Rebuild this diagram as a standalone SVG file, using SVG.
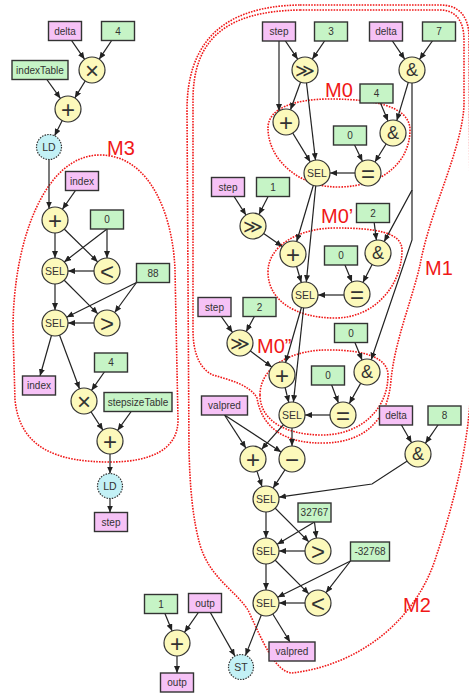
<svg xmlns="http://www.w3.org/2000/svg" width="469" height="694" viewBox="0 0 469 694">
<defs>
<style>
  .bg{fill:#ffffff}
  .region{fill:none;stroke:#f01818;stroke-width:1.6;stroke-dasharray:1.6 1.2}
  .rlbl{font-family:"Liberation Sans",Arial,sans-serif;font-size:20px;fill:#f01818}
  .edge line,.edge polyline{stroke:#222;stroke-width:1.2;fill:none;marker-end:url(#arr)}
  .var{fill:#f6c2f6;stroke:#333;stroke-width:1.4}
  .con{fill:#c6f4c6;stroke:#333;stroke-width:1.4}
  .op{fill:#fcf9bb;stroke:#333;stroke-width:1.2}
  .mem{fill:#c3f1f6;stroke:#333;stroke-width:1.2;stroke-dasharray:1.5 1.2}
  .bt{font-family:"Liberation Sans",Arial,sans-serif;font-size:10px;fill:#333;text-anchor:middle;dominant-baseline:central}
  .sym{font-family:"Liberation Sans","DejaVu Sans",sans-serif;font-size:24px;fill:#333;text-anchor:middle;dominant-baseline:central}
  .amp{font-family:"Liberation Sans","DejaVu Sans",sans-serif;font-size:18px;fill:#333;text-anchor:middle;dominant-baseline:central}
  .shr{font-family:"DejaVu Sans",sans-serif;font-size:19px;fill:#333;text-anchor:middle;dominant-baseline:central}
  .sel{font-family:"Liberation Sans",Arial,sans-serif;font-size:10.5px;fill:#333;text-anchor:middle;dominant-baseline:central}
</style>
<marker id="arr" markerUnits="userSpaceOnUse" markerWidth="7" markerHeight="6" refX="7" refY="3" orient="auto">
  <path d="M0,0 L7,3 L0,6 Z" fill="#222"/>
</marker>
</defs>
<rect class="bg" x="0" y="0" width="469" height="694"/>

<!-- dotted module outlines -->
<g id="regions">
  <path class="region" d="M 100,155 C 150,155 173,215 175,270 L 178,420 C 178,450 150,462 110,462 C 60,462 20,450 15,400 L 13,330 C 13,240 45,155 100,155 Z"/>
  <path class="region" d="M 300,5 L 440,5 C 458,5 468,15 469,35 L 471,380 C 470,440 455,500 435,560 C 415,620 360,665 292,673 C 275,672 262,640 248,610 C 235,590 210,578 200,545 C 193,520 190,490 189,450 L 187,110 C 187,45 220,6 300,5 Z"/>
  <path class="region" d="M 300,10 L 440,10 C 455,10 464,20 464,40 L 464,105 C 462,150 430,210 420,265 C 412,300 395,340 391,380 C 388,420 365,442 325,443 C 285,444 262,428 257,398 C 250,385 230,380 213,375 C 198,368 193,350 193,330 L 193,100 C 193,40 225,11 300,10 Z"/>
  <path class="region" d="M 268,128 C 268,108 295,99 330,99 C 370,99 410,105 410,130 C 410,160 385,186 340,187 C 300,188 268,160 268,128 Z"/>
  <path class="region" d="M 268,272 C 268,245 300,228 335,228 C 375,228 402,232 402,250 C 402,285 375,318 335,318 C 295,318 268,300 268,272 Z"/>
  <path class="region" d="M 260,395 C 260,365 295,349 330,350 C 365,350 388,358 388,375 C 388,410 360,435 322,435 C 285,435 260,420 260,395 Z"/>
  <text class="rlbl" x="107" y="155">M3</text>
  <text class="rlbl" x="325" y="97">M0</text>
  <text class="rlbl" x="321" y="223">M0’</text>
  <text class="rlbl" x="257" y="353">M0”</text>
  <text class="rlbl" x="425" y="275">M1</text>
  <text class="rlbl" x="403" y="612">M2</text>
</g>

<g id="connectors" class="edge">
  <!-- index update path -->
  <line x1="65" y1="31" x2="84.6" y2="59.3"/>
  <line x1="118" y1="31" x2="99.2" y2="59.2"/>
  <line x1="40" y1="70" x2="60.4" y2="98.4"/>
  <line x1="92" y1="70" x2="74.8" y2="97.9"/>
  <line x1="68" y1="109" x2="54.6" y2="135.8"/>
  <line x1="49" y1="159" x2="49" y2="208.5"/>
  <line x1="82" y1="181" x2="62.4" y2="209.3"/>
  <line x1="55" y1="233" x2="55" y2="258"/>
  <line x1="55" y1="220" x2="97.7" y2="261.9"/>
  <line x1="107" y1="229" x2="64.2" y2="261.9"/>
  <line x1="107" y1="229" x2="107" y2="258"/>
  <line x1="94" y1="271" x2="68" y2="271"/>
  <line x1="55" y1="284" x2="55" y2="310"/>
  <line x1="55" y1="271" x2="97.8" y2="313.8"/>
  <line x1="136.5" y1="282.5" x2="66.6" y2="317.2"/>
  <line x1="136.5" y1="282.5" x2="114.7" y2="312.5"/>
  <line x1="94" y1="323" x2="68" y2="323"/>
  <line x1="55" y1="323" x2="40" y2="376"/>
  <line x1="55" y1="323" x2="79.5" y2="388.8"/>
  <line x1="111" y1="362.5" x2="91.5" y2="390.4"/>
  <line x1="84" y1="401" x2="102.9" y2="430.1"/>
  <line x1="138" y1="402" x2="117.6" y2="430.4"/>
  <line x1="110" y1="454" x2="110" y2="473.5"/>
  <line x1="110" y1="498.5" x2="110" y2="512.5"/>
  <!-- M0 -->
  <line x1="279" y1="31.5" x2="297.7" y2="59.2"/>
  <line x1="331" y1="31.5" x2="312.3" y2="59.2"/>
  <line x1="279" y1="41" x2="279" y2="111"/>
  <line x1="305" y1="70" x2="290.5" y2="109.8"/>
  <line x1="305" y1="70" x2="315.5" y2="160.1"/>
  <line x1="386" y1="31.5" x2="404.7" y2="59.2"/>
  <line x1="439" y1="31.5" x2="419.5" y2="59.4"/>
  <line x1="412" y1="70" x2="396.8" y2="120.6"/>
  <line x1="376.5" y1="93.5" x2="388" y2="121"/>
  <polyline points="412,83 412,190 384.2,241.6"/>
  <polyline points="412,190 412,240 371.2,359.7"/>
  <line x1="350" y1="135.5" x2="362.4" y2="161.3"/>
  <line x1="393" y1="133" x2="374.9" y2="162"/>
  <line x1="286" y1="122" x2="310.3" y2="161.9"/>
  <line x1="355" y1="173" x2="330" y2="173"/>
  <!-- M0' -->
  <line x1="228" y1="187" x2="246" y2="215.1"/>
  <line x1="273" y1="187" x2="258.9" y2="214.4"/>
  <line x1="253" y1="226" x2="282.3" y2="246.5"/>
  <line x1="317" y1="173" x2="296.7" y2="241.5"/>
  <line x1="317" y1="173" x2="306.3" y2="282.1"/>
  <line x1="373" y1="213" x2="376.4" y2="240.1"/>
  <line x1="341" y1="255.5" x2="352" y2="282"/>
  <line x1="378" y1="253" x2="362.9" y2="282.4"/>
  <line x1="293" y1="254" x2="301.3" y2="282.5"/>
  <line x1="344" y1="295" x2="318" y2="295"/>
  <!-- M0'' -->
  <line x1="214.5" y1="307" x2="232.5" y2="332.4"/>
  <line x1="259.5" y1="307" x2="246.2" y2="331.6"/>
  <line x1="240" y1="343" x2="271.7" y2="367.1"/>
  <line x1="305" y1="295" x2="285.6" y2="362.5"/>
  <line x1="305" y1="295" x2="293.4" y2="402.1"/>
  <line x1="351" y1="333" x2="362.1" y2="360"/>
  <line x1="367" y1="372" x2="349.3" y2="403.6"/>
  <line x1="328" y1="375.5" x2="338.4" y2="402.8"/>
  <line x1="282" y1="375" x2="288.8" y2="402.4"/>
  <line x1="330" y1="415" x2="305" y2="415"/>
  <!-- M2 -->
  <line x1="224.5" y1="415" x2="245.9" y2="448.1"/>
  <line x1="224.5" y1="415" x2="281.1" y2="451.9"/>
  <line x1="292" y1="415" x2="261.6" y2="449.3"/>
  <line x1="292" y1="428" x2="292" y2="446"/>
  <line x1="253" y1="459" x2="262" y2="486.6"/>
  <line x1="292" y1="459" x2="273.1" y2="488.1"/>
  <line x1="396" y1="415.5" x2="411.6" y2="442.7"/>
  <line x1="444.5" y1="415.5" x2="425.4" y2="443.3"/>
  <polyline points="418,454 372,484 278.9,497.2"/>
  <line x1="266" y1="512" x2="266" y2="538"/>
  <line x1="266" y1="499" x2="308.8" y2="541.8"/>
  <line x1="314.5" y1="522" x2="277.2" y2="544.3"/>
  <line x1="314.5" y1="522" x2="316.4" y2="538.1"/>
  <line x1="305" y1="551" x2="279" y2="551"/>
  <line x1="266" y1="564" x2="266" y2="590"/>
  <line x1="266" y1="551" x2="308.8" y2="593.8"/>
  <line x1="350.5" y1="561" x2="277.6" y2="597.2"/>
  <line x1="350.5" y1="561" x2="326" y2="592.7"/>
  <line x1="305" y1="603" x2="279" y2="603"/>
  <line x1="266" y1="603" x2="290" y2="642"/>
  <line x1="266" y1="603" x2="245.5" y2="655.4"/>
  <!-- output pointer -->
  <line x1="161" y1="604" x2="172.1" y2="631"/>
  <line x1="205" y1="603" x2="184.5" y2="632.3"/>
  <line x1="205" y1="603" x2="234.9" y2="656.1"/>
  <line x1="177" y1="656" x2="177" y2="673"/>
</g>

<g id="nodes">
  <!-- boxes: variables and constants -->
  <g id="n_delta1"><rect class="var" x="48.5" y="21.5" width="33" height="19"/><text class="bt" x="65" y="31">delta</text></g>
  <g id="n_c4a"><rect class="con" x="101.5" y="21.5" width="33" height="19"/><text class="bt" x="118" y="31">4</text></g>
  <g id="n_indexTable"><rect class="con" x="12" y="60.5" width="56" height="19"/><text class="bt" x="40" y="70">indexTable</text></g>
  <g id="n_index1"><rect class="var" x="65.5" y="171.5" width="33" height="19"/><text class="bt" x="82" y="181">index</text></g>
  <g id="n_c0a"><rect class="con" x="90.5" y="210" width="33" height="19"/><text class="bt" x="107" y="219.5">0</text></g>
  <g id="n_c88"><rect class="con" x="136.5" y="263.5" width="33" height="19"/><text class="bt" x="153" y="273">88</text></g>
  <g id="n_index2"><rect class="var" x="22.5" y="376" width="33" height="19"/><text class="bt" x="39" y="385.5">index</text></g>
  <g id="n_c4b"><rect class="con" x="94.5" y="353" width="33" height="19"/><text class="bt" x="111" y="362.5">4</text></g>
  <g id="n_stepsizeTable"><rect class="con" x="104" y="392.5" width="68" height="19"/><text class="bt" x="138" y="402">stepsizeTable</text></g>
  <g id="n_step1"><rect class="var" x="94.5" y="512.5" width="33" height="19"/><text class="bt" x="111" y="522">step</text></g>

  <g id="n_stepA"><rect class="var" x="262.5" y="22" width="33" height="19"/><text class="bt" x="279" y="31.5">step</text></g>
  <g id="n_c3"><rect class="con" x="314.5" y="22" width="33" height="19"/><text class="bt" x="331" y="31.5">3</text></g>
  <g id="n_deltaA"><rect class="var" x="369.5" y="22" width="33" height="19"/><text class="bt" x="386" y="31.5">delta</text></g>
  <g id="n_c7"><rect class="con" x="422.5" y="22" width="33" height="19"/><text class="bt" x="439" y="31.5">7</text></g>
  <g id="n_c4c"><rect class="con" x="360" y="84" width="33" height="19"/><text class="bt" x="376.5" y="93.5">4</text></g>
  <g id="n_c0b"><rect class="con" x="333.5" y="126" width="33" height="19"/><text class="bt" x="350" y="135.5">0</text></g>
  <g id="n_stepB"><rect class="var" x="211.5" y="177.5" width="33" height="19"/><text class="bt" x="228" y="187">step</text></g>
  <g id="n_c1a"><rect class="con" x="256.5" y="177.5" width="33" height="19"/><text class="bt" x="273" y="187">1</text></g>
  <g id="n_c2a"><rect class="con" x="356.5" y="203.5" width="33" height="19"/><text class="bt" x="373" y="213">2</text></g>
  <g id="n_c0c"><rect class="con" x="324.5" y="246" width="33" height="19"/><text class="bt" x="341" y="255.5">0</text></g>
  <g id="n_stepC"><rect class="var" x="198" y="297.5" width="33" height="19"/><text class="bt" x="214.5" y="307">step</text></g>
  <g id="n_c2b"><rect class="con" x="243" y="297.5" width="33" height="19"/><text class="bt" x="259.5" y="307">2</text></g>
  <g id="n_c0d"><rect class="con" x="334.5" y="323.5" width="33" height="19"/><text class="bt" x="351" y="333">0</text></g>
  <g id="n_c0e"><rect class="con" x="311.5" y="366" width="33" height="19"/><text class="bt" x="328" y="375.5">0</text></g>
  <g id="n_valpred1"><rect class="var" x="201.5" y="396" width="46" height="19"/><text class="bt" x="224.5" y="405.5">valpred</text></g>
  <g id="n_deltaD"><rect class="var" x="379.5" y="406" width="33" height="19"/><text class="bt" x="396" y="415.5">delta</text></g>
  <g id="n_c8"><rect class="con" x="428" y="406" width="33" height="19"/><text class="bt" x="444.5" y="415.5">8</text></g>
  <g id="n_c32767"><rect class="con" x="298" y="503" width="33" height="19"/><text class="bt" x="314.5" y="512.5">32767</text></g>
  <g id="n_cm32768"><rect class="con" x="350.5" y="542" width="39" height="19"/><text class="bt" x="370" y="551.5">-32768</text></g>
  <g id="n_c1b"><rect class="con" x="144.5" y="594.5" width="33" height="19"/><text class="bt" x="161" y="604">1</text></g>
  <g id="n_outp1"><rect class="var" x="188.5" y="593.5" width="33" height="19"/><text class="bt" x="205" y="603">outp</text></g>
  <g id="n_valpred2"><rect class="var" x="269" y="642" width="46" height="19"/><text class="bt" x="292" y="651.5">valpred</text></g>
  <g id="n_outp2"><rect class="var" x="160.5" y="673" width="33" height="19"/><text class="bt" x="177" y="682.5">outp</text></g>

  <!-- operator nodes -->
  <g id="n_mul1"><circle class="op" cx="92" cy="70" r="13"/><text class="sym" x="92" y="70">×</text></g>
  <g id="n_add1"><circle class="op" cx="68" cy="109" r="13"/><text class="sym" x="68" y="109">+</text></g>
  <g id="n_ld1"><circle class="mem" cx="49" cy="147" r="12.5"/><text class="sel" x="49" y="147">LD</text></g>
  <g id="n_add2"><circle class="op" cx="55" cy="220" r="13"/><text class="sym" x="55" y="220">+</text></g>
  <g id="n_sel1"><circle class="op" cx="55" cy="271" r="13"/><text class="sel" x="55" y="271">SEL</text></g>
  <g id="n_lt1"><circle class="op" cx="107" cy="271" r="13"/><text class="sym" x="107" y="271">&lt;</text></g>
  <g id="n_sel2"><circle class="op" cx="55" cy="323" r="13"/><text class="sel" x="55" y="323">SEL</text></g>
  <g id="n_gt1"><circle class="op" cx="107" cy="323" r="13"/><text class="sym" x="107" y="323">&gt;</text></g>
  <g id="n_mul2"><circle class="op" cx="84" cy="401" r="13"/><text class="sym" x="84" y="401">×</text></g>
  <g id="n_add3"><circle class="op" cx="110" cy="441" r="13"/><text class="sym" x="110" y="441">+</text></g>
  <g id="n_ld2"><circle class="mem" cx="110" cy="486" r="12.5"/><text class="sel" x="110" y="486">LD</text></g>

  <g id="n_shr1"><circle class="op" cx="305" cy="70" r="13"/><text class="shr" x="305" y="70">≫</text></g>
  <g id="n_and1"><circle class="op" cx="412" cy="70" r="13"/><text class="amp" x="412" y="70">&amp;</text></g>
  <g id="n_add4"><circle class="op" cx="286" cy="122" r="13"/><text class="sym" x="286" y="122">+</text></g>
  <g id="n_and2"><circle class="op" cx="393" cy="133" r="13"/><text class="amp" x="393" y="133">&amp;</text></g>
  <g id="n_sel3"><circle class="op" cx="317" cy="173" r="13"/><text class="sel" x="317" y="173">SEL</text></g>
  <g id="n_eq1"><circle class="op" cx="368" cy="173" r="13"/><text class="sym" x="368" y="173">=</text></g>
  <g id="n_shr2"><circle class="op" cx="253" cy="226" r="13"/><text class="shr" x="253" y="226">≫</text></g>
  <g id="n_add5"><circle class="op" cx="293" cy="254" r="13"/><text class="sym" x="293" y="254">+</text></g>
  <g id="n_and3"><circle class="op" cx="378" cy="253" r="13"/><text class="amp" x="378" y="253">&amp;</text></g>
  <g id="n_sel4"><circle class="op" cx="305" cy="295" r="13"/><text class="sel" x="305" y="295">SEL</text></g>
  <g id="n_eq2"><circle class="op" cx="357" cy="294" r="13"/><text class="sym" x="357" y="294">=</text></g>
  <g id="n_shr3"><circle class="op" cx="240" cy="343" r="13"/><text class="shr" x="240" y="343">≫</text></g>
  <g id="n_add6"><circle class="op" cx="282" cy="375" r="13"/><text class="sym" x="282" y="375">+</text></g>
  <g id="n_and4"><circle class="op" cx="367" cy="372" r="13"/><text class="amp" x="367" y="372">&amp;</text></g>
  <g id="n_sel5"><circle class="op" cx="292" cy="415" r="13"/><text class="sel" x="292" y="415">SEL</text></g>
  <g id="n_eq3"><circle class="op" cx="343" cy="415" r="13"/><text class="sym" x="343" y="415">=</text></g>
  <g id="n_add7"><circle class="op" cx="253" cy="459" r="13"/><text class="sym" x="253" y="459">+</text></g>
  <g id="n_sub1"><circle class="op" cx="292" cy="459" r="13"/><text class="sym" x="292" y="459">−</text></g>
  <g id="n_and5"><circle class="op" cx="418" cy="454" r="13"/><text class="amp" x="418" y="454">&amp;</text></g>
  <g id="n_sel6"><circle class="op" cx="266" cy="499" r="13"/><text class="sel" x="266" y="499">SEL</text></g>
  <g id="n_sel7"><circle class="op" cx="266" cy="551" r="13"/><text class="sel" x="266" y="551">SEL</text></g>
  <g id="n_gt2"><circle class="op" cx="318" cy="551" r="13"/><text class="sym" x="318" y="551">&gt;</text></g>
  <g id="n_sel8"><circle class="op" cx="266" cy="603" r="13"/><text class="sel" x="266" y="603">SEL</text></g>
  <g id="n_lt2"><circle class="op" cx="318" cy="603" r="13"/><text class="sym" x="318" y="603">&lt;</text></g>
  <g id="n_add8"><circle class="op" cx="177" cy="643" r="13"/><text class="sym" x="177" y="643">+</text></g>
  <g id="n_st"><circle class="mem" cx="241" cy="667" r="12.5"/><text class="sel" x="241" y="667">ST</text></g>
</g>
</svg>
